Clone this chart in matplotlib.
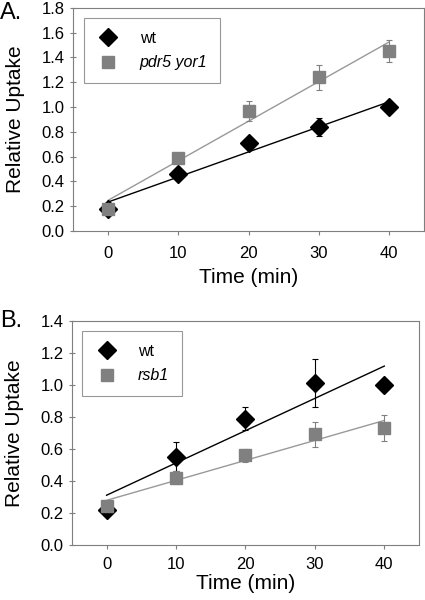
import matplotlib.pyplot as plt
import numpy as np

# ---- data ----
time = [0, 10, 20, 30, 40]

# panel A
a_wt = [0.18, 0.46, 0.71, 0.84, 1.00]
a_wt_err = [0.01, 0.01, 0.02, 0.07, 0.0]
a_mut = [0.18, 0.59, 0.97, 1.24, 1.45]
a_mut_err = [0.02, 0.02, 0.08, 0.10, 0.09]
a_mut_label = "pdr5 yor1"

# panel B
b_wt = [0.22, 0.55, 0.79, 1.01, 1.00]
b_wt_err = [0.01, 0.09, 0.07, 0.15, 0.0]
b_mut = [0.24, 0.42, 0.56, 0.69, 0.73]
b_mut_err = [0.02, 0.04, 0.04, 0.08, 0.08]
b_mut_label = "rsb1"

a_yticks = [0.0, 0.2, 0.4, 0.6, 0.8, 1.0, 1.2, 1.4, 1.6, 1.8]
b_yticks = [0.0, 0.2, 0.4, 0.6, 0.8, 1.0, 1.2, 1.4]
xticks = [0, 10, 20, 30, 40]

plt.rcParams["font.family"] = ["Liberation Sans", "DejaVu Sans"]

GRAY = "#808080"
FRAME = "#7f7f7f"

fig = plt.figure(figsize=(4.25, 6), dpi=100)
ax_a = fig.add_axes([0.172, 0.615, 0.826, 0.372])
ax_b = fig.add_axes([0.169, 0.092, 0.817, 0.373])


def draw_panel(ax, wt, wt_err, mut, mut_err, mut_label, yticks, xpad, tpad):
    x = np.array(time)
    # linear fits
    for y, c in [(wt, "black"), (mut, "#999999")]:
        k, b = np.polyfit(x, y, 1)
        ax.plot([x[0], x[-1]], [b, b + k * x[-1]], color=c, linewidth=1.0, zorder=2)
    ax.errorbar(time, wt, yerr=wt_err, fmt="none", ecolor="black",
                elinewidth=0.8, capsize=2.5, capthick=0.8, zorder=3)
    ax.errorbar(time, mut, yerr=mut_err, fmt="none", ecolor=GRAY,
                elinewidth=0.8, capsize=2.5, capthick=0.8, zorder=3)
    ax.plot(time, wt, linestyle="none", marker="D", markersize=9,
            color="black", label="wt", zorder=4)
    ax.plot(time, mut, linestyle="none", marker="s", markersize=9,
            color=GRAY, label=mut_label, zorder=5)

    ax.set_xlim(-5, 45)
    ax.set_ylim(yticks[0], yticks[-1])
    ax.set_xticks(xticks)
    ax.set_yticks(yticks)
    ax.set_yticklabels([f"{v:.1f}" for v in yticks])
    ax.tick_params(axis="y", direction="inout", length=4, width=0.8,
                   color=FRAME, labelsize=12, pad=4)
    ax.tick_params(axis="x", direction="out", length=3, width=0.8,
                   color=FRAME, labelsize=12, pad=tpad)
    for s in ax.spines.values():
        s.set_color(FRAME)
        s.set_linewidth(0.8)
    ax.set_xlabel("Time (min)", fontsize=15, labelpad=xpad)
    ax.set_ylabel("Relative Uptake", fontsize=15, labelpad=12)

    leg = ax.legend(loc="upper left", bbox_to_anchor=(0.03, 0.955),
                    borderaxespad=0, fontsize=11.5, frameon=True, fancybox=False,
                    borderpad=0.8, handletextpad=1.2, labelspacing=0.6,
                    handlelength=1.5)
    leg.get_frame().set_edgecolor(FRAME)
    leg.get_frame().set_linewidth(0.8)
    leg.get_texts()[1].set_style("italic")


draw_panel(ax_a, a_wt, a_wt_err, a_mut, a_mut_err, a_mut_label, a_yticks, 5, 8)
draw_panel(ax_b, b_wt, b_wt_err, b_mut, b_mut_err, b_mut_label, b_yticks, 1, 6)

fig.text(0.0, 1 - 13 / 600, "A.", fontsize=17, ha="left", va="center")
fig.text(0.0, 1 - 321 / 600, "B.", fontsize=17, ha="left", va="center")

fig.savefig("out.png", dpi=100)
